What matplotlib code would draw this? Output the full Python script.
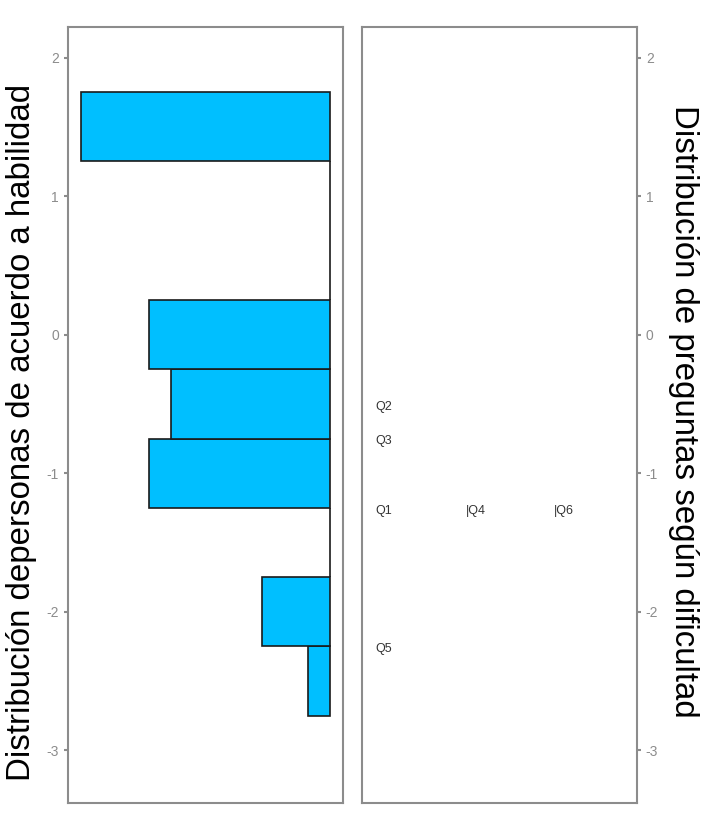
import numpy as np
import matplotlib; matplotlib.use("Agg")
import matplotlib.pyplot as plt

plt.rcParams["font.family"] = ["Liberation Sans", "DejaVu Sans"]
plt.rcParams["axes.unicode_minus"] = False

# person ability histogram (bin centres, counts)
bin_centers = [-2.5, -2.0, -1.5, -1.0, -0.5, 0.0, 0.5, 1.0, 1.5]
counts = [1, 3, 0, 8, 7, 8, 0, 0, 11]
bin_width = 0.5

# item difficulties
items = ["Q1", "Q2", "Q3", "Q4", "Q5", "Q6"]
difficulty = [-1.25, -0.5, -0.75, -1.25, -2.25, -1.25]
item_col = [0, 0, 0, 1, 0, 2]  # column when several items share a level

yticks = [-3, -2, -1, 0, 1, 2]
ylim = (-3.38, 2.22)

fig = plt.figure(figsize=(7.04, 8.21), dpi=100)
ax1 = fig.add_axes([0.0966, 0.022, 0.3906, 0.945])
ax2 = fig.add_axes([0.514, 0.022, 0.3906, 0.945])

ax1.barh(bin_centers, counts, height=bin_width, color="#00BFFF", edgecolor="#1a1a1a", linewidth=1.2)
ax1.set_xlim(11.55, -0.55)
ax1.set_ylim(*ylim)
ax1.set_xticks([])
ax1.set_yticks(yticks)

ax2.set_xlim(0, 1)
ax2.set_ylim(*ylim)
ax2.set_xticks([])
ax2.set_yticks(yticks)
ax2.yaxis.tick_right()
col_x = [0.05, 0.38, 0.70]
for name, d, c in zip(items, difficulty, item_col):
    txt = name if c == 0 else "|" + name
    ax2.text(col_x[c], d - 0.02, txt, fontsize=9, color="#333333", va="center", ha="left")

fig.text(22 / 704, 1 - 432 / 821, "Distribución depersonas de acuerdo a habilidad",
         fontsize=23.8, rotation=90, ha="center", va="center")
fig.text(684 / 704, 1 - 411 / 821, "Distribución de preguntas según dificultad",
         fontsize=23.8, rotation=270, ha="center", va="center")

for ax in (ax1, ax2):
    for s in ax.spines.values():
        s.set_color("#8c8c8c")
        s.set_linewidth(1.5)
    ax.tick_params(axis="y", colors="#8c8c8c", labelcolor="#8c8c8c", labelsize=10, length=3, width=1.5)

fig.savefig("out.png", dpi=100)
